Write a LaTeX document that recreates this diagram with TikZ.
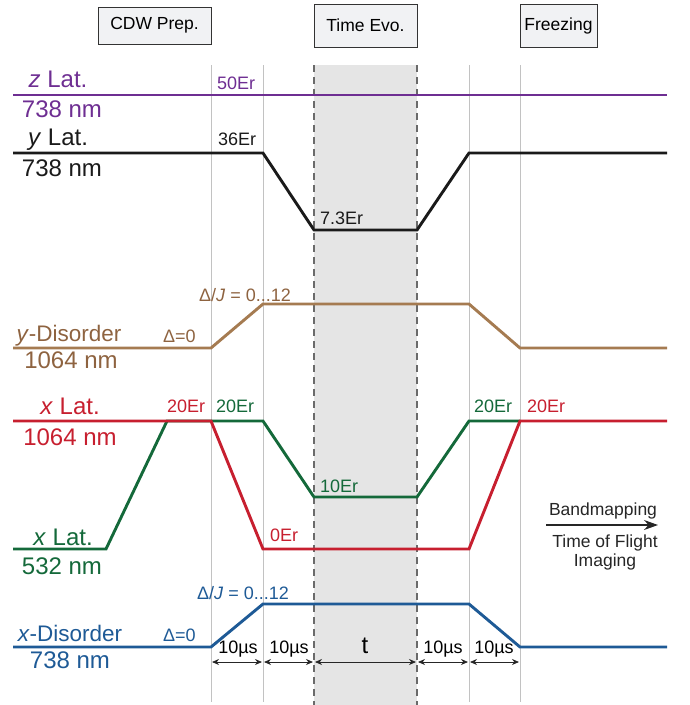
\documentclass[tikz,border=0pt]{standalone}
\usepackage{fontspec}
\setmainfont{Liberation Sans}
\usetikzlibrary{arrows.meta}
\definecolor{zcol}{HTML}{6E2E92}
\definecolor{ycol}{HTML}{1A1A1A}
\definecolor{brcol}{HTML}{A57B51}
\definecolor{brtext}{HTML}{8E6340}
\definecolor{redcol}{HTML}{C71F2F}
\definecolor{grcol}{HTML}{14693A}
\definecolor{blcol}{HTML}{1E5A96}
\definecolor{shadecol}{HTML}{E5E5E5}
\definecolor{boxfill}{HTML}{F1F2F4}
\definecolor{gridcol}{HTML}{C2C2C2}
\definecolor{dashcol}{HTML}{6A6A6A}
\begin{document}
\begin{tikzpicture}[x=1pt,y=-1pt,
  trace/.style={line width=2.9pt, line join=miter, line cap=butt},
  gridline/.style={draw=gridcol, line width=0.9pt},
  dashline/.style={draw=dashcol, line width=1.5pt, dash pattern=on 7pt off 5pt},
  phase/.style={draw=black!80, line width=0.9pt, fill=boxfill, font=\fontsize{17.5}{20}\selectfont, inner sep=0pt},
  biglab/.style={anchor=base, inner sep=0pt, font=\fontsize{24}{28}\selectfont},
  dislab/.style={anchor=base, inner sep=0pt, font=\fontsize{22.5}{27}\selectfont},
  smalllab/.style={anchor=base west, inner sep=0pt, font=\fontsize{18}{21}\selectfont},
  durlab/.style={anchor=base, inner sep=0pt, font=\fontsize{18}{21}\selectfont},
  dur/.style={{Stealth[length=7pt,width=6pt]}-{Stealth[length=7pt,width=6pt]}, line width=0.8pt, draw=black!85},
  note/.style={anchor=base, inner sep=0pt, font=\fontsize{17.5}{21}\selectfont, text=black!85}]
\useasboundingbox (0,0) rectangle (689,705);

% time-evolution window
\fill[shadecol] (314,65) rectangle (417,705);

% time markers
\foreach \xx/\nm in {211/a,263/b,469/e,520/f}
  \draw[gridline] (\xx,65) coordinate (\nm top) -- (\xx,702) coordinate (\nm bot);
\foreach \xx/\nm in {314/c,417/d}
  \draw[dashline] (\xx,65) coordinate (\nm top) -- (\xx,705) coordinate (\nm bot);

% phase boxes
\node[phase, minimum width=113pt, minimum height=37pt] (cdw) at (154.5,25.5) {CDW Prep.};
\node[phase, minimum width=103pt, minimum height=43pt] (tevo) at (365.5,25.5) {Time Evo.};
\node[phase, minimum width=77pt, minimum height=43pt] (frz) at (558.5,25.5) {Freezing};

% lattice and disorder ramps
\draw[trace, zcol] (13,95) -- (667,95);
\draw[trace, ycol] (13,153) -- (263,153) -- (314,230) -- (417,230) -- (469,153) -- (667,153);
\draw[trace, brcol] (13,348) -- (211,348) -- (263,304) -- (469,304) -- (520,348) -- (667,348);
\draw[trace, grcol] (13,549) -- (106,549) -- (167,421) -- (263,421) -- (314,497) -- (417,497) -- (469,421) -- (520,421);
\draw[trace, redcol] (13,421) -- (211,421) -- (263,549) -- (469,549) -- (520,421) -- (667,421);
\draw[trace, blcol] (13,647) -- (211,647) -- (263,604) -- (469,604) -- (520,647) -- (667,647);

% beam labels
\node[biglab, text=zcol] (zname) at (58,87) {\textit{z} Lat.};
\node[biglab, text=zcol] (zwl) at (62,117) {738 nm};
\node[biglab, text=ycol] (yname) at (58,145) {\textit{y} Lat.};
\node[biglab, text=ycol] (ywl) at (62,176) {738 nm};
\node[dislab, text=brtext] (ydname) at (69,341) {\textit{y}-Disorder};
\node[biglab, text=brtext] (ydwl) at (71,368) {1064 nm};
\node[biglab, text=redcol] (xrname) at (70,414) {\textit{x} Lat.};
\node[biglab, text=redcol] (xrwl) at (70,445) {1064 nm};
\node[biglab, text=grcol] (xgname) at (63,545) {\textit{x} Lat.};
\node[biglab, text=grcol] (xgwl) at (62,574) {532 nm};
\node[dislab, text=blcol] (xdname) at (70,641) {\textit{x}-Disorder};
\node[biglab, text=blcol] (xdwl) at (70,668) {738 nm};

% depth labels
\node[smalllab, text=zcol] (z50) at (217,89) {50Er};
\node[smalllab, text=ycol] (y36) at (218,145) {36Er};
\node[smalllab, text=ycol] (y73) at (320,224) {7.3Er};
\node[smalllab, text=brtext] (ydJ) at (199,301) {Δ/\textit{J} = 0...12};
\node[smalllab, text=brtext] (yd0) at (163,342) {Δ=0};
\node[smalllab, text=redcol] (xr20a) at (167,412) {20Er};
\node[smalllab, text=grcol] (xg20a) at (216,412) {20Er};
\node[smalllab, text=redcol] (xr0) at (270,541) {0Er};
\node[smalllab, text=grcol] (xg10) at (320,492) {10Er};
\node[smalllab, text=grcol] (xg20b) at (474,412) {20Er};
\node[smalllab, text=redcol] (xr20b) at (527,412) {20Er};
\node[smalllab, text=blcol] (xdJ) at (197,599) {Δ/\textit{J} = 0...12};
\node[smalllab, text=blcol] (xd0) at (163,641) {Δ=0};

% step durations
\coordinate (ra) at (211,662);
\coordinate (rb) at (263,662);
\coordinate (rc) at (314,662);
\coordinate (rd) at (417,662);
\coordinate (re) at (469,662);
\coordinate (rf) at (520,662);
\draw[dur] ([xshift=1pt]ra) -- ([xshift=-1pt]rb);
\draw[dur] ([xshift=1pt]rb) -- ([xshift=-1pt]rc);
\draw[dur] ([xshift=1pt]rc) -- ([xshift=-1pt]rd);
\draw[dur] ([xshift=1pt]rd) -- ([xshift=-1pt]re);
\draw[dur] ([xshift=1pt]re) -- ([xshift=-1pt]rf);
\node[durlab] (d1) at (238,653) {10µs};
\node[durlab] (d2) at (289,653) {10µs};
\node[durlab, font=\fontsize{24}{27}\selectfont] (d3) at (365,653) {t};
\node[durlab] (d4) at (443,653) {10µs};
\node[durlab] (d5) at (494,653) {10µs};

% detection
\coordinate (bm0) at (546,525);
\coordinate (bm1) at (658,525);
\draw[line width=1.3pt, black!85, -{Stealth[length=14pt,width=10pt]}] (bm0) -- (bm1);
\node[note] (bm) at (603,515) {Bandmapping};
\node[note] (tof) at (605,547) {Time of Flight};
\node[note] (img) at (605,566) {Imaging};
\end{tikzpicture}
\end{document}
